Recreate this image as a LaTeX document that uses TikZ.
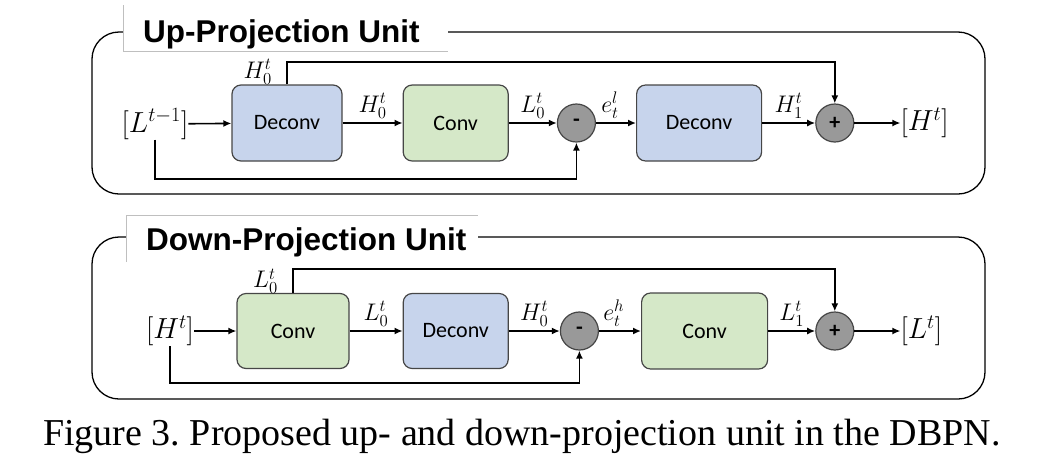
\RequirePackage{fix-cm}
\documentclass[tikz,border=0pt]{standalone}
\usepackage{fontspec}
\setmainfont{Liberation Serif}
\newfontfamily\boxfont{Carlito}
\newfontfamily\titlefont{Liberation Sans}
\usepackage{tikz}
\usetikzlibrary{arrows.meta,positioning}

\definecolor{deconvblue}{RGB}{199,212,236}
\definecolor{convgreen}{RGB}{213,232,200}
\definecolor{opgray}{RGB}{153,153,153}
\definecolor{boxline}{RGB}{70,70,70}

\tikzset{deconvbox/.style={
    % The shape:
    rectangle,rounded corners=9pt,
    % The size:
    minimum height=76pt,
    minimum width=110pt,
    % The border:
    line width=1.2pt,
    draw=boxline,
    % The filling:
    fill=deconvblue,
    % Font
    font=\boxfont\fontsize{22}{26}\selectfont
    },
    convbox/.style={
    deconvbox,
    fill=convgreen,
    },
    opnode/.style={
    circle,
    minimum size=38pt,
    inner sep=0pt,
    line width=1.2pt,
    draw=boxline,
    fill=opgray,
    font=\boxfont\bfseries\fontsize{22}{26}\selectfont,
    },
    iolbl/.style={
    inner sep=0pt,
    font=\fontsize{29}{32}\selectfont,
    },
    lbl/.style={
    inner sep=1pt,
    font=\fontsize{24}{27}\selectfont,
    },
    arr/.style={
    line width=1.6pt,
    -{Latex[length=8pt,width=7pt]},
    },
    unitframe/.style={
    line width=1.3pt,
    rounded corners=27pt,
    },
    tabedge/.style={
    line width=0.8pt,
    draw=black!25,
    },
    unittitle/.style={
    inner sep=0pt,
    font=\titlefont\bfseries\fontsize{31.5}{34}\selectfont,
    },
}

\begin{document}
\begin{tikzpicture}[x=1pt,y=-1pt]
    % pixel grid of the page, y runs downwards
    \useasboundingbox (0,0) rectangle (1064,472);

    % Up-projection unit
    \draw[unitframe] (92,32) rectangle (985,194);
    \fill[white] (123,5) rectangle (448,51);
    \draw[tabedge] (123,5) |- (448,51);
    \node (uptitle) [unittitle,anchor=base west] at (143,42) {Up-Projection Unit};

    \node (lin)     [iolbl] at (155,124)                        {$[L^{t-1}]$};
    \node (updec)   [deconvbox] at (287,123)                    {Deconv};
    \node (upconv)  [convbox,right=60pt of updec,minimum width=105pt] {Conv};
    \node (upminus) [opnode,right=48pt of upconv]               {-};
    \node (updec2)  [deconvbox,right=40pt of upminus,minimum width=125pt] {Deconv};
    \node (upplus)  [opnode,right=53pt of updec2]               {+};
    \node (hout)    [iolbl,right=46pt of upplus]                {$[H^t]$};
    \node (uph0)    [lbl,inner sep=0pt,anchor=south east,xshift=-15pt] at (updec.north) {$H_0^t$};
    \coordinate (uptop) at (0,62);
    \coordinate (uplow) at (0,179);

    \draw[arr] (lin) -- (updec);
    \draw[arr] (updec) -- node[lbl,above=3pt] {$H_0^t$} (upconv);
    \draw[arr] (upconv) -- node[lbl,above=3pt] {$L_0^t$} (upminus);
    \draw[arr] (upminus) -- node[lbl,above=3pt,pos=0.35] {$e_t^l$} (updec2);
    \draw[arr] (updec2) -- node[lbl,above=3pt] {$H_1^t$} (upplus);
    \draw[arr] (upplus) -- (hout);
    \draw[arr] (updec.north) -- (updec.north |- uptop) -| (upplus.north);
    \draw[arr] (lin.south) -- (lin.south |- uplow) -| (upminus.south);

    % Down-projection unit
    \draw[unitframe] (92,237) rectangle (985,399);
    \fill[white] (126,215) rectangle (478,262);
    \draw[tabedge] (126,262) |- (478,215);
    \node (dntitle) [unittitle,anchor=base west] at (146,250) {Down-Projection Unit};

    \node (hin)     [iolbl] at (170,331)                        {$[H^t]$};
    \node (dnconv)  [convbox,minimum width=112pt,minimum height=75pt] at (293,331) {Conv};
    \node (dndec)   [deconvbox,right=53pt of dnconv,minimum width=105pt,minimum height=75pt] {Deconv};
    \node (dnminus) [opnode,right=51pt of dndec]                {-};
    \node (dnconv2) [convbox,right=42pt of dnminus,minimum width=126pt] {Conv};
    \node (dnplus)  [opnode,right=47pt of dnconv2]              {+};
    \node (lout)    [iolbl,right=46pt of dnplus]                {$[L^t]$};
    \node (dnl0)    [lbl,inner sep=0pt,anchor=south east,xshift=-15pt,yshift=-1pt] at (dnconv.north) {$L_0^t$};
    \coordinate (dntop) at (0,269);
    \coordinate (dnlow) at (0,383);

    \draw[arr] (hin) -- (dnconv);
    \draw[arr] (dnconv) -- node[lbl,above=3pt] {$L_0^t$} (dndec);
    \draw[arr] (dndec) -- node[lbl,above=3pt] {$H_0^t$} (dnminus);
    \draw[arr] (dnminus) -- node[lbl,above=3pt,pos=0.35] {$e_t^h$} (dnconv2);
    \draw[arr] (dnconv2) -- node[lbl,above=3pt] {$L_1^t$} (dnplus);
    \draw[arr] (dnplus) -- (lout);
    \draw[arr] (dnconv.north) -- (dnconv.north |- dntop) -| (dnplus.north);
    \draw[arr] (hin.south) -- (hin.south |- dnlow) -| (dnminus.south);

    \node (caption) [anchor=base west,inner sep=0pt,font=\fontsize{38}{42}\selectfont] at (43,445)
        {\frenchspacing Figure 3. Proposed up- and down-projection unit in the DBPN.};
\end{tikzpicture}
\end{document}
